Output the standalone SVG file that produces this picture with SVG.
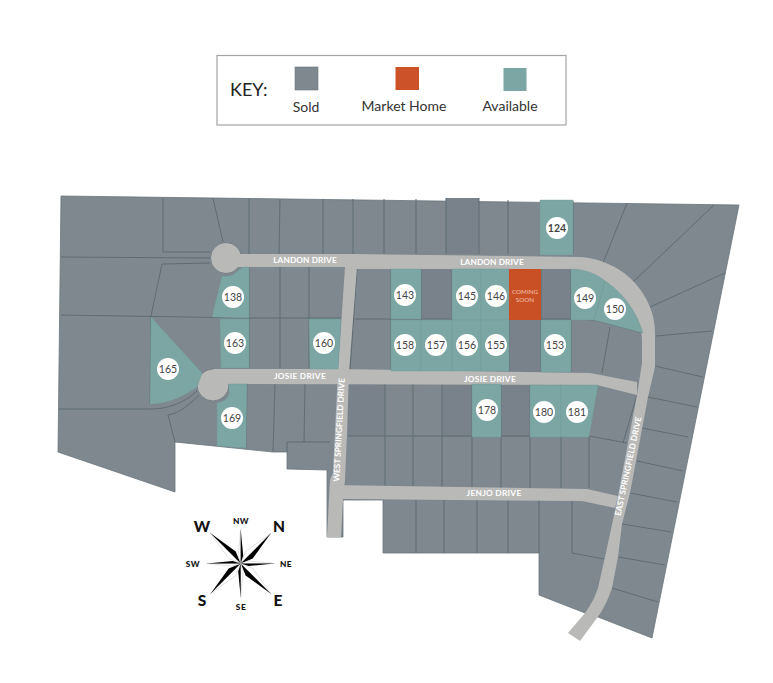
<svg xmlns="http://www.w3.org/2000/svg" width="773" height="683" viewBox="0 0 773 683">
<style>
text{font-family:Lato,"Open Sans","Liberation Sans",sans-serif}
.land{fill:#7f888f;stroke:#69757b;stroke-width:.8}
.dark{fill:#79828a}
.line{fill:none;stroke:#5f6c72;stroke-width:1}
.av{fill:#7ba6a3;stroke:#72999a;stroke-width:.4}
.road{fill:#b9b9b7}
.pin{fill:#fff}
.num{font-size:10.5px;fill:#444;text-anchor:middle;font-weight:400}
.rl{font-size:8.3px;font-weight:700;fill:#fff;text-anchor:middle;letter-spacing:.3px}
.key{font-size:14px;fill:#333;text-anchor:middle}
.cmp{font-weight:900;fill:#111;text-anchor:middle;font-size:15.5px}
.cmps{font-weight:900;fill:#111;text-anchor:middle;font-size:8.3px;letter-spacing:.5px}
.rb{fill:#000}
.rw{fill:#fff;stroke:#b5b5b5;stroke-width:.4}
</style>
<defs>
<g id="long"><path class="rw" d="M0-43L-5-12L0 0Z"/><path class="rb" d="M0-43L5-12L0 0Z"/></g>
<g id="short"><path class="rw" d="M0-34L-2.500-8L0 0Z"/><path class="rb" d="M0-34L2.500-8L0 0Z"/></g>
</defs>
<rect width="773" height="683" fill="#fff"/>
<g id="key">
<rect x="217" y="55.500" width="349" height="69.500" fill="#fff" stroke="#a3a3a3" stroke-width="1.200"/>
<text x="230" y="96" font-size="18" fill="#222">KEY:</text>
<rect x="295" y="67" width="23" height="23" fill="#7f888f" stroke="#69757b" stroke-width=".6"/>
<text class="key" x="306" y="111.500">Sold</text>
<rect x="395.500" y="67" width="23.500" height="23" fill="#cb5229"/>
<text class="key" x="404" y="110.500">Market Home</text>
<rect x="503.500" y="68" width="23" height="23" fill="#7ba6a3"/>
<text class="key" x="510" y="111">Available</text>
</g>
<g id="land">
<path class="land" d="M61 196L739 205L652 638L598 617L585 613L539 595V553H383V500H343V537H327V470L287 469V452L273 452L175 442V492L58 452Z"/>
<path class="dark" d="M446 198H479V254H446ZM421 269H452V319H421ZM541 269H571V320H541ZM509 320H541V372H509ZM348 384H385V436H348ZM443 384H472V437H443ZM501 384H530V437H501Z"/>
<path class="line" d="M163 198V252H210M213 198L223 242M249 199V254M280 199L279 254M323 199V254M353 199V254M384 199V254M416 199V254M446 198V254M479 198V254M508 200V254M573 201V254M627 203L603 263M714 205L633 282M725 273L650 307M712 331L656 336M703 377L655 366M697 407L648 397M688 437L642 428M637 461L683 471M630 493L677 502M622 524L671 532M618 557L665 565M612 588L658 602"/>
<path class="line" d="M61 257L210 258M162 264L210 263M162 264L151 316M61 315L249 318H342M151 316L150 404M59 409H150C170 409 185 402 197 391M168 415C180 413 190 404 199 395M168 415L175 442"/>
<path class="line" d="M249 267V368M280 267V368M309 267V368M275 383L273 451M305 383L304 442M287 452V442H330M247 384L246 448"/>
<path class="line" d="M357 269L350 370M355 319H571L594 320L643 333M391 269V371M421 269V371M452 269V371M481 269V371M509 269V372M541 269V372M571 269V372M610 327L602 373"/>
<path class="line" d="M348 436H589L627 443M385 384V486M413 384V486M442 384V487M472 384V487M501 384V488M530 384V488M561 384V488M589 437V488M637 395L623 443M344 437V486"/>
<path class="line" d="M416 500V553M444 500V553M477 500V553M508 500V553M539 500V553M572 500V553L604 559"/>
</g>
<g id="roads">
<circle class="road" cx="226" cy="258" r="15.500" stroke="#69757b" stroke-width=".8"/>
<circle class="road" cx="213" cy="385" r="16" stroke="#69757b" stroke-width=".8"/>
<path class="road" d="M236 254H352L580 257C600 258 620 268 630 278C645 292 655 312 655 332V367L648 397L630 493L622 524L618 557L612 588C608 600 603 610 597 618L580 641L568 633L585 613C592 603 595 597 598 588L605 557L613 520L618 496L637 395L642 363V340C642 320 630 300 605 282C590 273 580 269 570 269H345V267H236Z"/>
<path class="road" d="M345 267H357L349 371L347 433L345 480L343 499L341 537H327L330 480L333 473L338 370Z"/>
<path class="road" d="M213 369L220 369H338L590 373L637 382V395L597 385L229 384H213Z"/>
<path class="road" d="M330 485L587 489L618 496L615 508L582 501L343 499H330Z"/>
</g>
<g id="lot-124"><path class="av" d="M540 200H573V255H540Z"/><circle class="pin" cx="557" cy="228" r="11"/><text class="num" x="557" y="232" style="font-weight:700">124</text></g>
<g id="lot-138"><path class="av" d="M222 276C226 277 230 276 233 275L243 267H249V318L212 317Z"/><circle class="pin" cx="233" cy="297" r="11"/><text class="num" x="233" y="301">138</text></g>
<g id="lot-163"><path class="av" d="M220 319H249V368H221Z"/><circle class="pin" cx="235" cy="343" r="11"/><text class="num" x="235" y="347">163</text></g>
<g id="lot-165"><path class="av" d="M151 317L202 373L197 387C187 394 170 404 150 404Z"/><circle class="pin" cx="168" cy="369" r="11"/><text class="num" x="168" y="373">165</text></g>
<g id="lot-160"><path class="av" d="M309 319H341L338 369H310Z"/><circle class="pin" cx="324" cy="343" r="11"/><text class="num" x="324" y="347">160</text></g>
<g id="lot-169"><path class="av" d="M217 403C224 402 229 398 229 393V384H247L246 448L217 446Z"/><circle class="pin" cx="232" cy="418" r="11"/><text class="num" x="232" y="422">169</text></g>
<g id="lot-143"><path class="av" d="M391 269H421V319H391Z"/><circle class="pin" cx="405" cy="295" r="11"/><text class="num" x="405" y="299">143</text></g>
<g id="lot-145"><path class="av" d="M452 269H481V320H452Z"/><circle class="pin" cx="467" cy="296" r="11"/><text class="num" x="467" y="300">145</text></g>
<g id="lot-146"><path class="av" d="M481 269H509V320H481Z"/><circle class="pin" cx="496" cy="296" r="11"/><text class="num" x="496" y="300">146</text></g>
<g id="lot-market"><path fill="#c94f25" d="M509 269H541V320H509Z"/><text x="525" y="294" font-size="6.300" fill="#f2c4b2" text-anchor="middle">COMING</text><text x="525" y="302" font-size="6.300" fill="#f2c4b2" text-anchor="middle">SOON</text></g>
<g id="lot-149"><path class="av" d="M571 269C585 269 597 274 605 281L594 320H571Z"/><circle class="pin" cx="585" cy="298" r="11"/><text class="num" x="585" y="302">149</text></g>
<g id="lot-150"><path class="av" d="M605 281C620 290 636 310 643 333L594 320Z"/><circle class="pin" cx="615" cy="309" r="11"/><text class="num" x="615" y="313">150</text></g>
<g id="lot-158"><path class="av" d="M391 320H421V371H391Z"/><circle class="pin" cx="405" cy="345" r="11"/><text class="num" x="405" y="349">158</text></g>
<g id="lot-157"><path class="av" d="M421 320H452V371H421Z"/><circle class="pin" cx="436" cy="345" r="11"/><text class="num" x="436" y="349">157</text></g>
<g id="lot-156"><path class="av" d="M452 320H481V371H452Z"/><circle class="pin" cx="467" cy="345" r="11"/><text class="num" x="467" y="349">156</text></g>
<g id="lot-155"><path class="av" d="M481 320H509V371H481Z"/><circle class="pin" cx="496" cy="345" r="11"/><text class="num" x="496" y="349">155</text></g>
<g id="lot-153"><path class="av" d="M541 320H571V372H541Z"/><circle class="pin" cx="555" cy="345" r="11"/><text class="num" x="555" y="349">153</text></g>
<g id="lot-178"><path class="av" d="M472 384H501V437H472Z"/><circle class="pin" cx="487" cy="410" r="11"/><text class="num" x="487" y="414">178</text></g>
<g id="lot-180"><path class="av" d="M530 385H561V437H530Z"/><circle class="pin" cx="544" cy="412" r="11"/><text class="num" x="544" y="416">180</text></g>
<g id="lot-181"><path class="av" d="M561 385H598L589 437H561Z"/><circle class="pin" cx="577" cy="412" r="11"/><text class="num" x="577" y="416">181</text></g>
<g id="road-labels">
<text class="rl" x="305" y="262.500" style="letter-spacing:.1px">LANDON DRIVE</text>
<text class="rl" x="492" y="265" style="letter-spacing:.1px">LANDON DRIVE</text>
<text class="rl" x="300" y="379">JOSIE DRIVE</text>
<text class="rl" x="490" y="381.500">JOSIE DRIVE</text>
<text class="rl" x="494" y="496">JENJO DRIVE</text>
<text class="rl" transform="translate(342 430) rotate(-87)" style="letter-spacing:0">WEST SPRINGFIELD DRIVE</text>
<text class="rl" transform="translate(631 467) rotate(-78)" style="letter-spacing:0">EAST SPRINGFIELD DRIVE</text>
</g>
<g id="compass">
<use href="#long" transform="translate(240.700 563.500) rotate(-45)"/>
<use href="#long" transform="translate(240.700 563.500) rotate(45)"/>
<use href="#long" transform="translate(240.700 563.500) rotate(135)"/>
<use href="#long" transform="translate(240.700 563.500) rotate(225)"/>
<use href="#short" transform="translate(240.700 563.500)"/>
<use href="#short" transform="translate(240.700 563.500) rotate(90)"/>
<use href="#short" transform="translate(240.700 563.500) rotate(180)"/>
<use href="#short" transform="translate(240.700 563.500) rotate(270)"/>
<text class="cmp" x="202" y="532">W</text>
<text class="cmp" x="279" y="532">N</text>
<text class="cmp" x="202" y="606">S</text>
<text class="cmp" x="278" y="606">E</text>
<text class="cmps" x="241" y="524">NW</text>
<text class="cmps" x="286" y="567">NE</text>
<text class="cmps" x="241" y="610">SE</text>
<text class="cmps" x="193" y="567">SW</text>
</g>
</svg>
